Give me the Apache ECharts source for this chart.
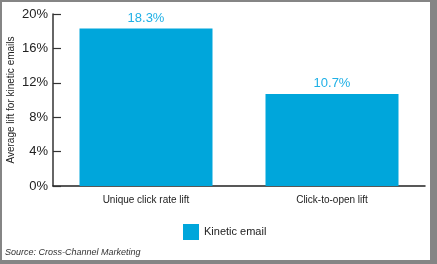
<!DOCTYPE html>
<html><head><meta charset="utf-8">
<script src="https://cdn.jsdelivr.net/npm/echarts@6/dist/echarts.min.js"></script>
<style>
html,body{margin:0;padding:0;background:#858585;}
#wrap{position:absolute;left:2px;top:2px;width:428px;height:258px;background:#fff;}
#c{width:437px;height:264px;position:absolute;left:-2px;top:-2px;}
</style></head>
<body><div id="wrap"><div id="c"></div></div>
<script>
var categories = ['Unique click rate lift', 'Click-to-open lift'];
var kineticValues = [18.3, 10.7];
var yTicks = [0, 4, 8, 12, 16, 20];
var yAxisTitle = 'Average lift for kinetic emails';
var chart = echarts.init(document.getElementById('c'));
chart.setOption({
  animation: false,
  backgroundColor: 'transparent',
  grid: {left: 53, right: 12, top: 14, bottom: 78, containLabel: false, outerBoundsMode: 'none'},
  legend: {
    data: ['Kinetic email'], left: 183, top: 224, itemWidth: 16, itemHeight: 16, itemGap: 6,
    icon: 'rect',
    textStyle: {fontFamily: 'Liberation Sans', fontSize: 11, color: '#222', padding: [0,0,0,0]},
    padding: 0
  },
  graphic: [{
    type: 'text', left: 5, top: 248,
    style: {text: 'Source: Cross-Channel Marketing', font: 'italic 9px "Liberation Sans"', fill: '#333'}
  }, {
    type: 'text', x: 11, y: 100, rotation: Math.PI / 2,
    style: {text: yAxisTitle, font: '10px "Liberation Sans"', fill: '#222', align: 'center', verticalAlign: 'middle'}
  }],
  xAxis: {
    type: 'category', data: categories,
    axisLine: {lineStyle: {color: '#222', width: 1.5}},
    axisTick: {inside: true, length: 5, lineStyle: {color: '#222', width: 1.2}},
    axisLabel: {fontFamily: 'Liberation Sans', fontSize: 10, color: '#222', margin: 9}
  },
  yAxis: {
    type: 'value', min: 0, max: 20, interval: 4,
    axisLine: {show: true, lineStyle: {color: '#333', width: 1.5}},
    axisTick: {show: true, inside: true, length: 8, lineStyle: {color: '#333', width: 1.2}},
    splitLine: {show: false},
    axisLabel: {formatter: function(v){return v + '%';}, fontFamily: 'Liberation Sans', fontSize: 13, color: '#222', margin: 5}
  },
  series: [{
    name: 'Kinetic email', type: 'bar', data: kineticValues, barWidth: 133,
    itemStyle: {color: '#00a6db'},
    label: {show: true, position: 'top', distance: 4, formatter: function(p){return p.value.toFixed(1) + '%';},
      fontFamily: 'Liberation Sans', fontSize: 13, color: '#1fb0e6'}
  }]
});
</script></body></html>
